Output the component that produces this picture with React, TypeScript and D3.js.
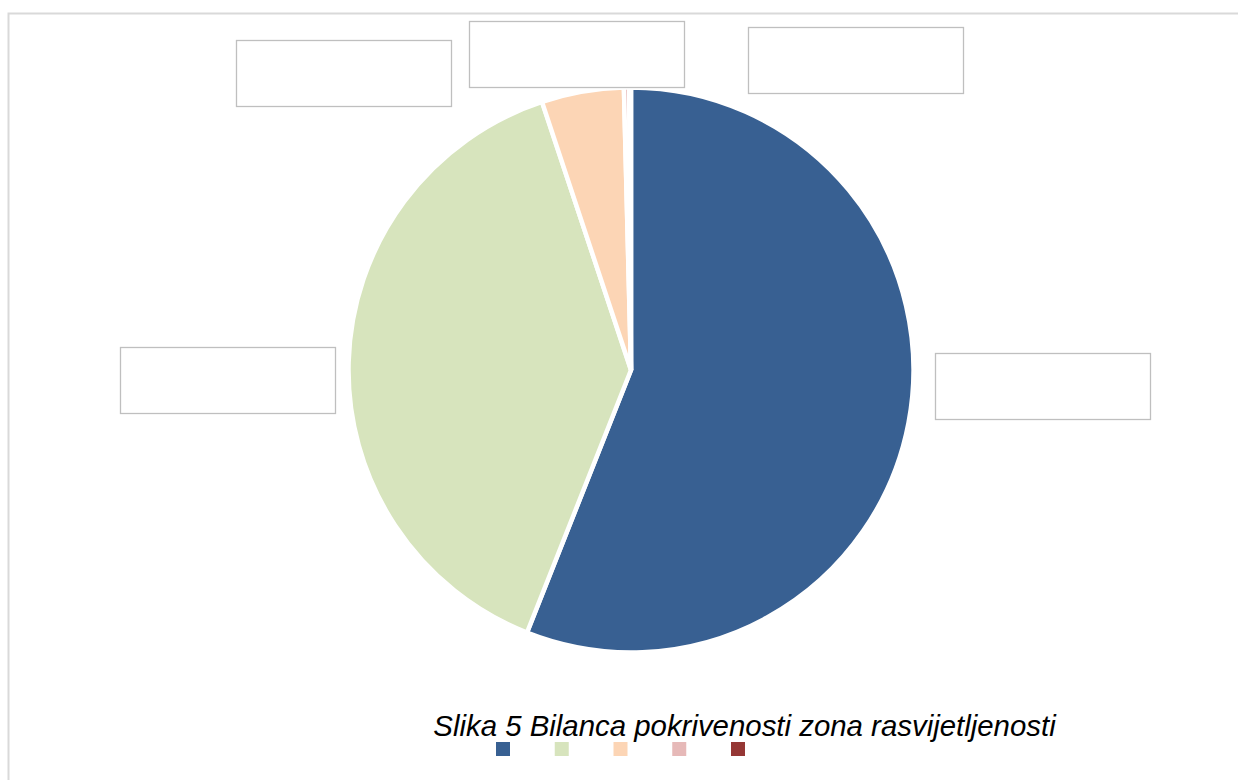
import React from "react";
import * as d3 from "d3";

const categories = ["Zona 1", "Zona 2", "Zona 3", "Zona 4", "Zona 5"];
const values = [56.0, 38.9, 4.7, 0.3, 0.1];
const colors = ["#386092", "#d7e4bd", "#fcd5b5", "#e6b9b8", "#953735"];
const title = "Slika 5 Bilanca pokrivenosti zona rasvijetljenosti";

// label boxes (empty, as in reference) for each slice
const labelBoxes = [
  { x: 935, y: 353 },
  { x: 120, y: 347 },
  { x: 236, y: 40 },
  { x: 469, y: 21 },
  { x: 748, y: 27 },
];

export default function App() {
  const cx = 631;
  const cy = 370;
  const r = 282.5;
  const pie = d3
    .pie<number>()
    .sort(null)
    .startAngle(0)
    .endAngle(2 * Math.PI)
    .value((d) => d);
  const arcs = pie(values);
  const arc = d3.arc<d3.PieArcDatum<number>>().innerRadius(0).outerRadius(r);

  const legendX = d3
    .scalePoint<string>()
    .domain(categories)
    .range([496, 731]);

  return (
    <svg
      width={1238}
      height={780}
      style={{ position: "absolute", left: 0, top: 0, display: "block" }}
    >
      <rect x={0} y={0} width={1238} height={780} fill="#ffffff" />
      <rect
        x={8.5}
        y={13.5}
        width={1260}
        height={800}
        fill="#ffffff"
        stroke="#d9d9d9"
        strokeWidth={2}
      />
      <g transform={`translate(${cx},${cy})`}>
        {arcs.map((a, i) => (
          <path
            key={categories[i]}
            d={arc(a) || ""}
            fill={colors[i]}
            stroke="#ffffff"
            strokeWidth={4.5}
            strokeLinejoin="miter"
          />
        ))}
      </g>
      {labelBoxes.map((b, i) => (
        <rect
          key={i}
          x={b.x + 0.5}
          y={b.y + 0.5}
          width={215}
          height={66}
          fill="#ffffff"
          stroke="#bfbfbf"
          strokeWidth={1.3}
        />
      ))}
      <text
        x={744.5}
        y={736}
        textAnchor="middle"
        fontFamily="'Liberation Sans', Arial, sans-serif"
        fontStyle="italic"
        fontSize={29.4}
        fill="#000000"
      >
        {title}
      </text>
      {categories.map((c, i) => (
        <rect
          key={c}
          x={(legendX(c) as number)}
          y={742}
          width={14}
          height={14}
          fill={colors[i]}
        />
      ))}
    </svg>
  );
}
